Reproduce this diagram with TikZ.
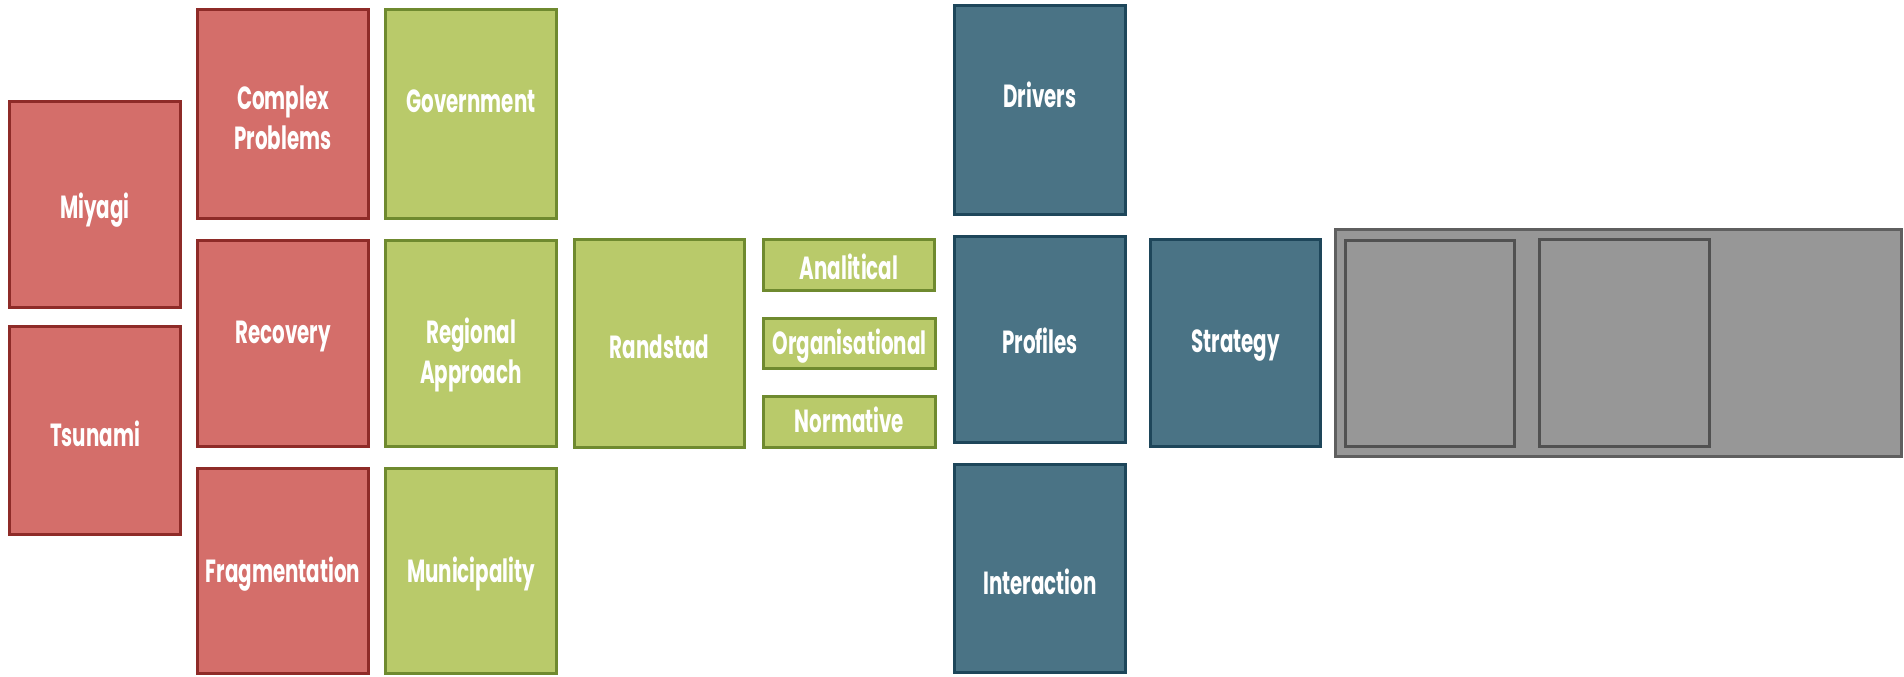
\documentclass[tikz,border=0pt]{standalone}
\usepackage{fontspec}
\newfontfamily\lblfont[FakeStretch=0.62]{Poppins}
\definecolor{rfill}{HTML}{D46E6A}
\definecolor{rdraw}{HTML}{8E2B28}
\definecolor{gfill}{HTML}{B9CA6A}
\definecolor{gdraw}{HTML}{6F8A2F}
\definecolor{bfill}{HTML}{4A7385}
\definecolor{bdraw}{HTML}{1E465A}
\definecolor{kfill}{HTML}{979797}
\definecolor{kdraw}{HTML}{5F5F5F}
\tikzset{
  boxbase/.style={rectangle, line width=2.8pt, inner sep=0pt},
  redbox/.style={boxbase, fill=rfill, draw=rdraw},
  greenbox/.style={boxbase, fill=gfill, draw=gdraw},
  bluebox/.style={boxbase, fill=bfill, draw=bdraw},
  graybox/.style={boxbase, fill=kfill, draw=kdraw},
  innerbox/.style={boxbase, fill=kfill, draw=kdraw!85!black},
  lbl/.style={text=white, font=\lblfont\bfseries\fontsize{32}{40}\selectfont, align=center, inner sep=0pt}
}
% name, style, cx, cy, w, h, text, dy (up positive)
\newcommand\blk[8]{%
  \node[#2, minimum width=#5pt, minimum height=#6pt] (#1) at (#3,#4) {};
  \node[lbl] (#1-t) at ([yshift=#8pt]#1.center) {#7};}
\begin{document}
\begin{tikzpicture}[x=1pt,y=-1pt]
\useasboundingbox (0,0) rectangle (1904,677);
% red column
\blk{miyagi}{redbox}{95}{204.5}{171.2}{206.2}{Miyagi}{-6}
\blk{tsunami}{redbox}{95}{430.5}{171.2}{208.2}{Tsunami}{-3}
\blk{complex}{redbox}{283}{114}{171.2}{209.2}{Complex\\Problems}{-4}
\blk{recovery}{redbox}{283}{343.5}{171.2}{206.2}{Recovery}{7}
\blk{frag}{redbox}{283}{571}{171.2}{205.2}{Fragmentation}{-3}
% green column
\blk{gov}{greenbox}{471}{114}{171.2}{209.2}{Government}{13}
\blk{regional}{greenbox}{471}{343.5}{171.2}{206.2}{Regional\\Approach}{-11}
\blk{muni}{greenbox}{471}{571}{171.2}{205.2}{Municipality}{-3}
\blk{randstad}{greenbox}{659.5}{343.5}{170.2}{208.2}{Randstad}{-3}
\blk{anal}{greenbox}{849}{265}{171.2}{51.2}{Analitical}{-2}
\blk{org}{greenbox}{849.5}{343.5}{172.2}{50.2}{Organisational}{-3}
\blk{norm}{greenbox}{849.5}{422}{172.2}{51.2}{Normative}{2}
% blue column
\blk{drivers}{bluebox}{1040}{110}{171.2}{209.2}{Drivers}{15}
\blk{profiles}{bluebox}{1040}{339.5}{171.2}{206.2}{Profiles}{-1}
\blk{inter}{bluebox}{1040}{568.5}{171.2}{208.2}{Interaction}{-13}
\blk{strategy}{bluebox}{1235.5}{343}{170.2}{207.2}{Strategy}{-3}
% gray panel
\node[graybox, minimum width=566.2pt, minimum height=227.2pt] (panel) at (1618.5,343) {};
\node[innerbox, minimum width=169.2pt, minimum height=206.2pt] (inner1) at (1430,343.5) {};
\node[innerbox, minimum width=170.2pt, minimum height=207.2pt] (inner2) at (1624.5,343) {};
\end{tikzpicture}
\end{document}
